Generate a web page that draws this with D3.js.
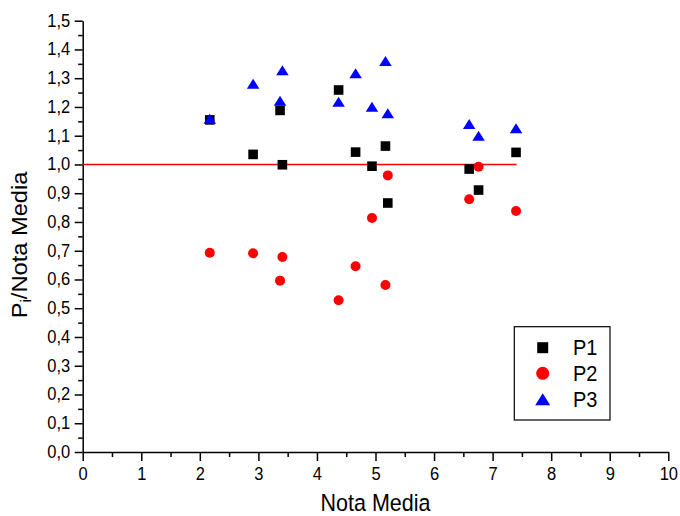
<!DOCTYPE html>
<html>
<head>
<meta charset="utf-8">
<script src="https://cdn.jsdelivr.net/npm/d3@7"></script>
<style>
  html, body { margin: 0; padding: 0; background: #fff; }
  svg { display: block; }
  text { font-family: "Liberation Sans", Arial, sans-serif; fill: #000; }
</style>
</head>
<body>
<script>
// ---- data ----
const notaMedia = [2.17, 2.91, 3.37, 3.41, 4.37, 4.66, 4.94, 5.17, 5.21, 6.60, 6.76, 7.40];
const p1 = [1.155, 1.035, 1.188, 0.999, 1.259, 1.043, 0.994, 1.064, 0.866, 0.984, 0.911, 1.042];
const p2 = [0.693, 0.691, 0.596, 0.678, 0.528, 0.646, 0.814, 0.581, 0.962, 0.879, 0.992, 0.838];
const p3 = [1.159, 1.281, 1.222, 1.328, 1.218, 1.317, 1.201, 1.360, 1.178, 1.141, 1.100, 1.126];
const refLineX = [0, 7.41];
const refLineY = 1.0;
const xTicks = [0, 1, 2, 3, 4, 5, 6, 7, 8, 9, 10];
const yTicks = [0, 0.1, 0.2, 0.3, 0.4, 0.5, 0.6, 0.7, 0.8, 0.9, 1.0, 1.1, 1.2, 1.3, 1.4, 1.5];
const seriesNames = ["P1", "P2", "P3"];
const seriesColors = ["#000000", "#ff0000", "#0000ff"];
const seriesShapes = ["square", "circle", "triangle"];
const xTitle = "Nota Media";

// ---- layout ----
const W = 680, H = 516;
const SY = 1.1; // vertical stretch of the original text
const svg = d3.select("body").append("svg").attr("width", W).attr("height", H);
svg.append("rect").attr("width", W).attr("height", H).attr("fill", "#fff");

const x = d3.scaleLinear().domain([0, 10]).range([82.7, 668.3]);
const y = d3.scaleLinear().domain([0, 1.5]).range([452, 20.7]);

const comma = v => d3.format(".1f")(v).replace(".", ",");

// minor ticks
const xMinor = d3.range(0, 10.01, 0.5).filter(v => Math.abs(v - Math.round(v)) > 1e-6);
const yMinor = d3.range(0, 1.501, 0.05).filter(v => Math.abs(v * 10 - Math.round(v * 10)) > 1e-6);

const gx = svg.append("g").attr("transform", `translate(0,${y(0)})`);
gx.call(d3.axisBottom(x).tickValues(xTicks).tickSize(9).tickPadding(4).tickFormat(d3.format("d")).tickSizeOuter(0));
gx.append("g").call(d3.axisBottom(x).tickValues(xMinor).tickSize(5).tickFormat("").tickSizeOuter(0))
  .select(".domain").remove();

const gy = svg.append("g").attr("transform", `translate(${x(0)},0)`);
gy.call(d3.axisLeft(y).tickValues(yTicks).tickSize(8).tickPadding(4).tickFormat(comma).tickSizeOuter(0));
gy.append("g").call(d3.axisLeft(y).tickValues(yMinor).tickSize(4.5).tickFormat("").tickSizeOuter(0))
  .select(".domain").remove();

svg.selectAll(".domain").attr("stroke", "#000").attr("stroke-width", 1.5);
svg.selectAll(".tick line").attr("stroke", "#000").attr("stroke-width", 1.5);
svg.selectAll(".tick text").attr("font-size", 16.5).attr("font-family", "Liberation Sans, Arial, sans-serif").attr("fill", "#000");

gx.selectAll(".tick text").attr("dy", null).attr("y", 0)
  .attr("transform", `translate(0,28) scale(1,${SY})`);
gy.selectAll(".tick text").attr("dy", null).attr("x", 0)
  .attr("transform", `translate(-12.5,5.5) scale(1,${SY})`);

// axis titles
svg.append("text")
  .attr("transform", `translate(${(x(0) + x(10)) / 2},511) scale(1,${SY})`)
  .attr("text-anchor", "middle").attr("font-size", 21.5).text(xTitle);

const yt = svg.append("text")
  .attr("transform", `translate(27,245) scale(1,${SY}) rotate(-90)`)
  .attr("text-anchor", "middle").attr("font-size", 21.5);
yt.append("tspan").text("P");
yt.append("tspan").attr("font-size", 14).attr("dy", 4).text("i");
yt.append("tspan").attr("dy", -4).text("/Nota Media");

// reference line
svg.append("line")
  .attr("x1", x(refLineX[0])).attr("x2", x(refLineX[1]))
  .attr("y1", y(refLineY)).attr("y2", y(refLineY))
  .attr("stroke", "#ff0000").attr("stroke-width", 1.6);

// markers
function marker(sel, shape, color, s) {
  if (shape === "square") {
    sel.append("rect").attr("x", -s / 2).attr("y", -s / 2).attr("width", s).attr("height", s).attr("fill", color);
  } else if (shape === "circle") {
    sel.append("circle").attr("r", s / 2).attr("fill", color);
  } else {
    const w = s * 1.25, h = s;
    sel.append("path").attr("d", `M0,${-h / 2}L${w / 2},${h / 2}L${-w / 2},${h / 2}Z`).attr("fill", color);
  }
}

const allSeries = [p1, p2, p3];
allSeries.forEach((vals, i) => {
  const pts = notaMedia.map((nx, j) => ({ nx, v: vals[j] }));
  svg.append("g").selectAll("g").data(pts).join("g")
    .attr("transform", d => `translate(${x(d.nx)},${y(d.v)})`)
    .each(function () { marker(d3.select(this), seriesShapes[i], seriesColors[i], i === 0 ? 9.6 : 10); });
});

// legend
const lg = svg.append("g");
lg.append("rect").attr("x", 514.3).attr("y", 326.7).attr("width", 95.7).attr("height", 93.3)
  .attr("fill", "#fff").attr("stroke", "#000").attr("stroke-width", 1.2);
const rowY = [347.7, 373.3, 399.3];
seriesNames.forEach((name, i) => {
  const g = lg.append("g").attr("transform", `translate(542.7,${rowY[i]})`);
  marker(g, seriesShapes[i], seriesColors[i], i === 0 ? 11 : (i === 1 ? 13 : 12));
  lg.append("text").attr("transform", `translate(573,${rowY[i] + 7.5}) scale(1,${SY})`)
    .attr("font-size", 20).text(name);
});
</script>
</body>
</html>
